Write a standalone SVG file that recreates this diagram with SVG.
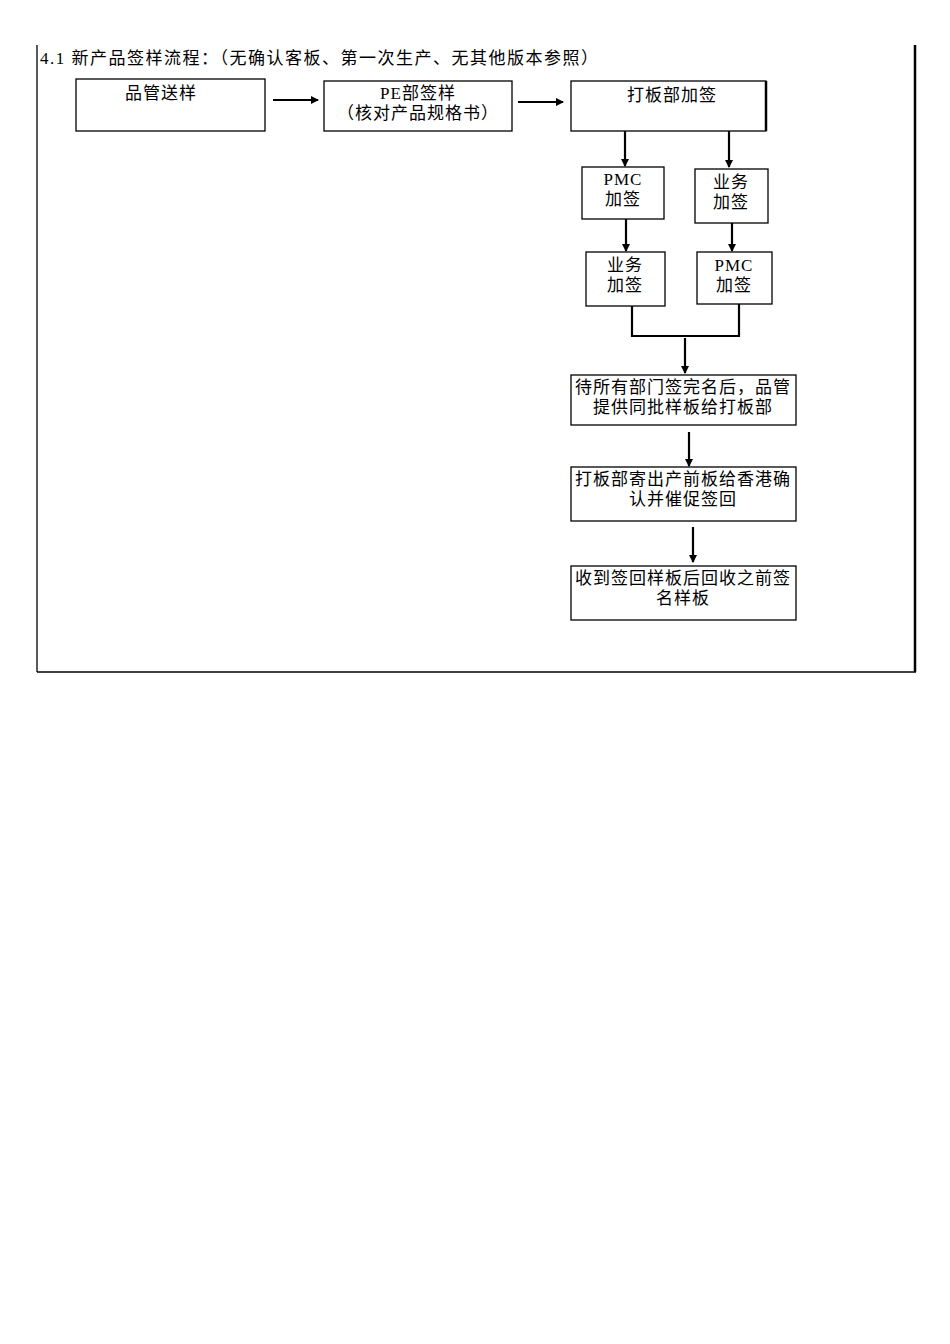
<svg xmlns="http://www.w3.org/2000/svg" width="950" height="1344" viewBox="0 0 950 1344">
<defs>
<style>
.b{fill:#fff;stroke:#000;stroke-width:1.3}
.t{font-family:"Liberation Serif","Noto Sans CJK SC",serif;font-size:17px;letter-spacing:1px;fill:#000;text-anchor:middle}
.c{stroke:#000;stroke-width:2.2;fill:none}
</style>
<marker id="a" markerWidth="8" markerHeight="8" refX="7" refY="4" orient="auto" markerUnits="userSpaceOnUse"><path d="M0,0L8,4L0,8z" fill="#000"/></marker>
</defs>
<rect width="950" height="1344" fill="#fff"/>
<g id="frame" stroke="#000" fill="none">
<line x1="37" y1="45" x2="37" y2="672" stroke-width="1.3"/>
<line x1="37" y1="672" x2="916" y2="672" stroke-width="1.3"/>
<line x1="915" y1="45" x2="915" y2="672" stroke-width="2.5"/>
</g>
<text x="40" y="64" font-family="Liberation Serif,'Noto Sans CJK SC',serif" font-size="17" textLength="558" lengthAdjust="spacing">4.1 新产品签样流程：（无确认客板、第一次生产、无其他版本参照）</text>
<g id="n1"><rect class="b" x="76" y="79" width="189" height="52"/><text class="t" x="161" y="99">品管送样</text></g>
<g id="n2"><rect class="b" x="324" y="81" width="188" height="50"/><text class="t" x="418" y="99">PE部签样</text><text class="t" x="418" y="119">（核对产品规格书）</text></g>
<g id="n3"><rect class="b" x="571" y="81" width="195" height="50"/><line x1="766" y1="81" x2="766" y2="131" stroke="#000" stroke-width="2.5"/><text class="t" x="672" y="101">打板部加签</text></g>
<g id="n4"><rect class="b" x="582" y="167" width="82" height="52"/><text class="t" x="623" y="185">PMC</text><text class="t" x="623" y="205">加签</text></g>
<g id="n5"><rect class="b" x="695" y="169" width="73" height="54"/><text class="t" x="731" y="188">业务</text><text class="t" x="731" y="208">加签</text></g>
<g id="n6"><rect class="b" x="586" y="252" width="79" height="54"/><text class="t" x="625" y="271">业务</text><text class="t" x="625" y="291">加签</text></g>
<g id="n7"><rect class="b" x="697" y="252" width="75" height="52"/><text class="t" x="734" y="271">PMC</text><text class="t" x="734" y="291">加签</text></g>
<g id="n8"><rect class="b" x="571" y="375" width="225" height="50"/><text class="t" x="683" y="393">待所有部门签完名后，品管</text><text class="t" x="683" y="413">提供同批样板给打板部</text></g>
<g id="n9"><rect class="b" x="571" y="467" width="225" height="54"/><text class="t" x="683" y="485">打板部寄出产前板给香港确</text><text class="t" x="683" y="505">认并催促签回</text></g>
<g id="n10"><rect class="b" x="571" y="566" width="225" height="54"/><text class="t" x="683" y="584">收到签回样板后回收之前签</text><text class="t" x="683" y="604">名样板</text></g>
<g id="connectors">
<line class="c" x1="273" y1="100" x2="318" y2="100" marker-end="url(#a)"/>
<line class="c" x1="518" y1="102" x2="563" y2="102" marker-end="url(#a)"/>
<line class="c" x1="625" y1="131" x2="625" y2="166" marker-end="url(#a)"/>
<line class="c" x1="729" y1="131" x2="729" y2="167" marker-end="url(#a)"/>
<line class="c" x1="626" y1="219" x2="626" y2="251" marker-end="url(#a)"/>
<line class="c" x1="732" y1="223" x2="732" y2="251" marker-end="url(#a)"/>
<path class="c" d="M632,306V336H739V304"/>
<line class="c" x1="685" y1="338" x2="685" y2="373" marker-end="url(#a)"/>
<line class="c" x1="689" y1="432" x2="689" y2="466" marker-end="url(#a)"/>
<line class="c" x1="693" y1="527" x2="693" y2="562" marker-end="url(#a)"/>
</g>
</svg>
